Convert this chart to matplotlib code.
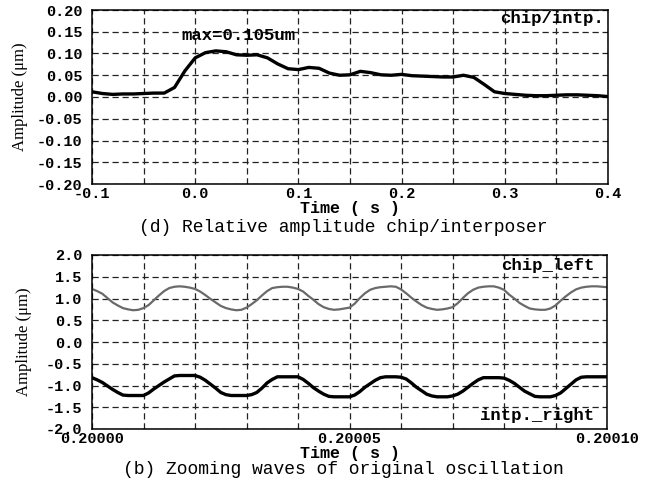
import numpy as np
import matplotlib
matplotlib.use("Agg")
import matplotlib.pyplot as plt
from matplotlib.ticker import FixedLocator

# ---------------- data: (d) relative amplitude chip/interposer ----------------
t_rel = np.linspace(-0.1, 0.4, 51)   # s, 0.01 s steps
amp_rel = [0.012, 0.008, 0.006, 0.007, 0.007, 0.008, 0.009, 0.009, 0.022, 0.060,
           0.090, 0.102, 0.106, 0.104, 0.097, 0.096, 0.097, 0.090, 0.076, 0.065,
           0.063, 0.068, 0.066, 0.055, 0.050, 0.051, 0.059, 0.056, 0.051, 0.050,
           0.052, 0.049, 0.048, 0.047, 0.046, 0.046, 0.050, 0.045, 0.029, 0.012,
           0.008, 0.006, 0.004, 0.003, 0.003, 0.004, 0.005, 0.005, 0.004, 0.003,
           0.001]
rel_xticks = [-0.1, 0.0, 0.1, 0.2, 0.3, 0.4]
rel_xticklabels = ["-0.1", "0.0", "0.1", "0.2", "0.3", "0.4"]
rel_yticks = [-0.20, -0.15, -0.10, -0.05, 0.00, 0.05, 0.10, 0.15, 0.20]
rel_yticklabels = ["-0.20", "-0.15", "-0.10", "-0.05", "0.00", "0.05", "0.10", "0.15", "0.20"]
rel_label = "chip/intp."
max_text = "max=0.105um"

# ---------------- data: (b) zooming waves of original oscillation ----------------
t_zoom = np.linspace(0.20000, 0.20010, 101)   # s, 1 us steps
chip_left = [1.22, 1.17, 1.11, 1.01, 0.91, 0.84, 0.78, 0.75, 0.73, 0.74,
             0.78, 0.85, 0.96, 1.07, 1.17, 1.24, 1.27, 1.28, 1.27, 1.25,
             1.22, 1.16, 1.08, 0.99, 0.91, 0.83, 0.78, 0.75, 0.73, 0.74,
             0.79, 0.87, 0.96, 1.07, 1.17, 1.24, 1.26, 1.27, 1.27, 1.25,
             1.22, 1.16, 1.06, 0.97, 0.87, 0.80, 0.76, 0.74, 0.75, 0.77,
             0.79, 0.88, 1.01, 1.12, 1.20, 1.24, 1.26, 1.27, 1.28, 1.27,
             1.21, 1.12, 1.02, 0.93, 0.85, 0.79, 0.76, 0.74, 0.75, 0.77,
             0.80, 0.89, 1.01, 1.12, 1.20, 1.25, 1.27, 1.28, 1.28, 1.25,
             1.20, 1.09, 1.00, 0.90, 0.83, 0.77, 0.75, 0.74, 0.74, 0.77,
             0.84, 0.95, 1.05, 1.14, 1.21, 1.25, 1.27, 1.28, 1.28, 1.27,
             1.26]
intp_right = [-0.82, -0.87, -0.93, -1.01, -1.09, -1.16, -1.22, -1.23, -1.23, -1.23,
              -1.23, -1.17, -1.08, -1.00, -0.92, -0.85, -0.78, -0.77, -0.77, -0.77,
              -0.77, -0.81, -0.88, -0.97, -1.06, -1.16, -1.21, -1.23, -1.23, -1.23,
              -1.23, -1.21, -1.16, -1.06, -0.94, -0.86, -0.80, -0.80, -0.80, -0.80,
              -0.80, -0.86, -0.95, -1.05, -1.13, -1.20, -1.25, -1.26, -1.26, -1.26,
              -1.26, -1.22, -1.14, -1.04, -0.96, -0.88, -0.82, -0.80, -0.80, -0.80,
              -0.81, -0.85, -0.94, -1.04, -1.12, -1.20, -1.24, -1.26, -1.26, -1.26,
              -1.24, -1.20, -1.13, -1.04, -0.95, -0.87, -0.82, -0.82, -0.82, -0.82,
              -0.83, -0.88, -0.95, -1.04, -1.13, -1.19, -1.25, -1.26, -1.26, -1.26,
              -1.23, -1.17, -1.07, -0.97, -0.87, -0.81, -0.80, -0.80, -0.80, -0.80,
              -0.80]
zoom_xticks = [0.20000, 0.20005, 0.20010]
zoom_xticklabels = ["0.20000", "0.20005", "0.20010"]
zoom_yticks = [-2.0, -1.5, -1.0, -0.5, 0.0, 0.5, 1.0, 1.5, 2.0]
zoom_yticklabels = ["-2.0", "-1.5", "-1.0", "-0.5", "0.0", "0.5", "1.0", "1.5", "2.0"]

caption_d = "(d) Relative amplitude chip/interposer"
caption_b = "(b) Zooming waves of original oscillation"
ylabel = "Amplitude (\u03bcm)"
xlabel = "Time ( s )"

# ---------------- styling ----------------
MONO = ["Liberation Mono", "DejaVu Sans Mono"]
SERIF = ["Liberation Serif", "DejaVu Serif"]
GRID_KW = dict(color="#222222", linestyle=(0, (5, 3)), linewidth=0.9)
TICK_FS = 11

fig = plt.figure(figsize=(6.47, 4.84), dpi=100)
fig.patch.set_facecolor("white")

W, H = 647.0, 484.0
ax1 = fig.add_axes([92 / W, 1 - 184 / H, 516 / W, 174 / H])
ax2 = fig.add_axes([92 / W, 1 - 429 / H, 515 / W, 174 / H])

def style(ax):
    for s in ax.spines.values():
        s.set_linewidth(1.1)
        s.set_color("black")
    ax.tick_params(which="both", length=0)
    ax.tick_params(axis="y", pad=7)
    ax.tick_params(axis="x", pad=2)
    for lab in ax.get_xticklabels() + ax.get_yticklabels():
        lab.set_fontfamily(MONO)
        lab.set_fontweight("bold")
        lab.set_fontsize(TICK_FS)
    ax.set_axisbelow(True)

# ---- top panel ----
ax1.plot(t_rel, amp_rel, color="black", linewidth=2.4, solid_capstyle="round")
ax1.set_xlim(-0.1, 0.4)
ax1.set_ylim(-0.20, 0.20)
ax1.set_xticks(rel_xticks)
ax1.set_xticklabels(rel_xticklabels)
ax1.xaxis.set_minor_locator(FixedLocator(list(np.linspace(-0.1, 0.4, 11))))
ax1.set_yticks(rel_yticks)
ax1.set_yticklabels(rel_yticklabels)
ax1.grid(True, which="both", **GRID_KW)
style(ax1)
ax1.set_xlabel(xlabel, fontfamily=MONO, fontweight="bold", fontsize=12, labelpad=0)
ax1.set_ylabel(ylabel, fontfamily=SERIF, fontsize=12, labelpad=6)
ax1.text(-0.013, 0.142, max_text, fontfamily=MONO, fontweight="bold", fontsize=12.5,
         ha="left", va="center")
ax1.text(0.396, 0.181, rel_label, fontfamily=MONO, fontweight="bold", fontsize=12.5,
         ha="right", va="center")
fig.text(343 / W, 1 - 228 / H, caption_d, fontfamily=MONO, fontsize=13,
         ha="center", va="center")

# ---- bottom panel ----
ax2.plot(t_zoom, chip_left, color="#6a6a6a", linewidth=1.6)
ax2.plot(t_zoom, intp_right, color="black", linewidth=2.4)
ax2.set_xlim(0.20000, 0.20010)
ax2.set_ylim(-2.0, 2.0)
ax2.set_xticks(zoom_xticks)
ax2.set_xticklabels(zoom_xticklabels)
ax2.xaxis.set_minor_locator(FixedLocator(list(np.linspace(0.20000, 0.20010, 11))))
ax2.set_yticks(zoom_yticks)
ax2.set_yticklabels(zoom_yticklabels)
ax2.grid(True, which="both", **GRID_KW)
style(ax2)
ax2.set_xlabel(xlabel, fontfamily=MONO, fontweight="bold", fontsize=12, labelpad=0)
ax2.set_ylabel(ylabel, fontfamily=SERIF, fontsize=12, labelpad=10)
ax2.text(0.2000975, 1.76, "chip_left", fontfamily=MONO, fontweight="bold", fontsize=12.5,
         ha="right", va="center")
ax2.text(0.2000975, -1.70, "intp._right", fontfamily=MONO, fontweight="bold", fontsize=12.5,
         ha="right", va="center")
fig.text(343 / W, 1 - 470 / H, caption_b, fontfamily=MONO, fontsize=13,
         ha="center", va="center")

fig.savefig("out.png", dpi=100, facecolor="white")
